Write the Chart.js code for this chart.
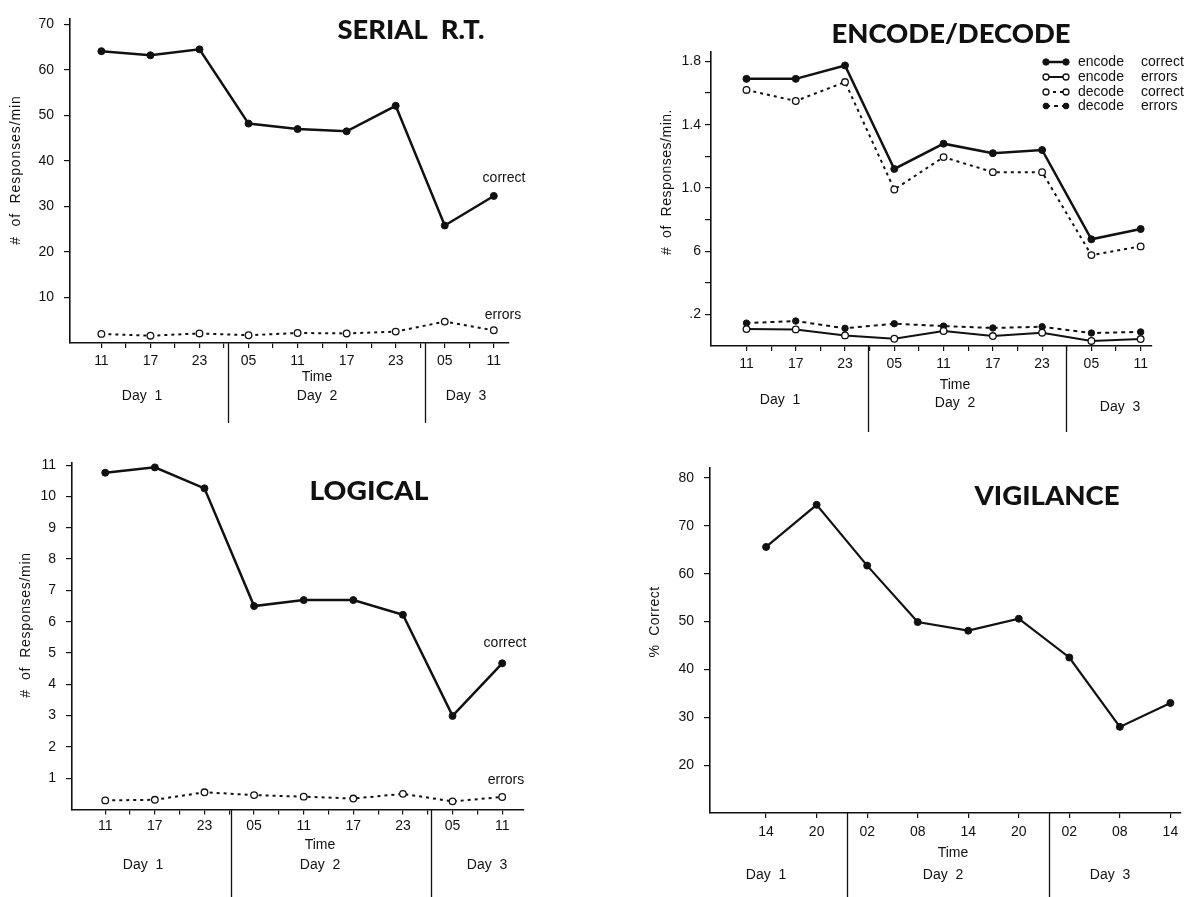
<!DOCTYPE html>
<html><head><meta charset="utf-8">
<script src="https://cdn.jsdelivr.net/npm/chart.js@4.4.1/dist/chart.umd.min.js"></script>
<style>
html,body{margin:0;padding:0;background:#fff;}
#wrap{position:relative;width:1195px;height:897px;overflow:hidden;background:#fff;}
.p{position:absolute;}
</style></head><body>
<div id="wrap">
<div class="p" style="left:0;top:0;width:600px;height:440px"><canvas id="c1"></canvas></div>
<div class="p" style="left:600px;top:0;width:595px;height:440px"><canvas id="c2"></canvas></div>
<div class="p" style="left:0;top:440px;width:600px;height:457px"><canvas id="c3"></canvas></div>
<div class="p" style="left:600px;top:440px;width:595px;height:457px"><canvas id="c4"></canvas></div>
</div>
<script>
// ---------- data ----------
const timeLabels = ['11','17','23','05','11','17','23','05','11'];
const vigTimeLabels = ['14','20','02','08','14','20','02','08','14'];
const dayLabels = ['Day  1','Day  2','Day  3'];
const xAxisTitle = 'Time';

const serialCorrect = [64.1, 63.2, 64.5, 48.2, 47.0, 46.5, 52.1, 25.8, 32.3];
const serialErrors  = [2.0, 1.6, 2.1, 1.7, 2.2, 2.1, 2.5, 4.7, 2.8];
const serialTicks = [10, 20, 30, 40, 50, 60, 70];
const serialTickLabels = ['10','20','30','40','50','60','70'];

const encodeCorrect = [1.69, 1.69, 1.775, 1.12, 1.28, 1.22, 1.24, 0.675, 0.74];
const encodeErrors  = [0.107, 0.105, 0.067, 0.046, 0.095, 0.063, 0.084, 0.032, 0.044];
const decodeCorrect = [1.62, 1.55, 1.67, 0.99, 1.195, 1.10, 1.10, 0.575, 0.63];
const decodeErrors  = [0.145, 0.158, 0.112, 0.141, 0.126, 0.114, 0.122, 0.082, 0.089];
const encodeTicks = [0.2, 0.4, 0.6, 0.8, 1.0, 1.2, 1.4, 1.6, 1.8];
const encodeTickLabels = ['.2', '', '6', '', '1.0', '', '1.4', '', '1.8'];

const logicalCorrect = [10.76, 10.93, 10.26, 6.50, 6.69, 6.69, 6.22, 2.99, 4.67];
const logicalErrors  = [0.29, 0.31, 0.55, 0.46, 0.41, 0.35, 0.50, 0.26, 0.40];
const logicalTicks = [1, 2, 3, 4, 5, 6, 7, 8, 9, 10, 11];
const logicalTickLabels = ['1','2','3','4','5','6','7','8','9','10','11'];

const vigilanceCorrect = [65.6, 74.4, 61.7, 49.9, 48.1, 50.6, 42.5, 28.0, 33.0];
const vigilanceTicks = [20, 30, 40, 50, 60, 70, 80];
const vigilanceTickLabels = ['20','30','40','50','60','70','80'];

// ---------- styles ----------
const INK = '#111';
const FONT_FAMILY = '"Liberation Sans", Arial, Helvetica, sans-serif';
const SMALL = '14px ' + FONT_FAMILY;
const TITLE_FONT = '900 26px Lato, "Liberation Sans", sans-serif';
Chart.defaults.font.family = FONT_FAMILY;
Chart.defaults.color = INK;

const toXY = arr => arr.map((v, i) => ({x: i, y: v}));

const solidFilled = (label, values) => ({
  label, data: toXY(values), borderColor: INK, borderWidth: 2.5, tension: 0,
  pointRadius: 3.5, pointBackgroundColor: INK, pointBorderColor: INK, pointBorderWidth: 1, fill: false
});
const dottedOpen = (label, values) => ({
  label, data: toXY(values), borderColor: INK, borderWidth: 2, borderDash: [3, 4], tension: 0,
  pointRadius: 3.3, pointBackgroundColor: '#fff', pointBorderColor: INK, pointBorderWidth: 1.3, fill: false
});
const solidOpen = (label, values) => ({
  label, data: toXY(values), borderColor: INK, borderWidth: 2, tension: 0,
  pointRadius: 3.3, pointBackgroundColor: '#fff', pointBorderColor: INK, pointBorderWidth: 1.3, fill: false
});
const dashedFilled = (label, values) => ({
  label, data: toXY(values), borderColor: INK, borderWidth: 2, borderDash: [4, 4], tension: 0,
  pointRadius: 3.2, pointBackgroundColor: INK, pointBorderColor: INK, pointBorderWidth: 1, fill: false
});

function fitText(ctx, text, cx, base, w, font) {
  ctx.save();
  ctx.font = font;
  const m = ctx.measureText(text).width;
  ctx.translate(cx, base);
  ctx.scale(w / m, 1);
  ctx.textAlign = 'center';
  ctx.textBaseline = 'alphabetic';
  ctx.fillText(text, 0, 0);
  ctx.restore();
}

const decorPlugin = {
  id: 'decor',
  afterDraw(chart, args, o) {
    const ctx = chart.ctx, xs = chart.scales.x, ca = chart.chartArea;
    ctx.save();
    ctx.fillStyle = INK; ctx.strokeStyle = INK;
    if (o.title) fitText(ctx, o.title.text, o.title.x, o.title.base, o.title.w, TITLE_FONT);
    // y title
    ctx.font = SMALL; ctx.textAlign = 'center'; ctx.textBaseline = 'middle';
    ctx.save();
    if ('letterSpacing' in ctx) ctx.letterSpacing = o.ytitle.spacing || '0px';
    ctx.translate(o.ytitle.x, o.ytitle.y);
    ctx.rotate(-Math.PI / 2);
    ctx.fillText(o.ytitle.text, 0, 0);
    ctx.restore();
    // day separators
    ctx.lineWidth = 1.3;
    o.seps.forEach(v => {
      const px = Math.round(xs.getPixelForValue(v)) + 0.5;
      ctx.beginPath(); ctx.moveTo(px, ca.bottom); ctx.lineTo(px, o.sepEnd); ctx.stroke();
    });
    ctx.fillText(xAxisTitle, o.time.x, o.time.y);
    o.days.forEach((d, i) => ctx.fillText(dayLabels[i], d.x, d.y));
    (o.notes || []).forEach(n => ctx.fillText(n.text, n.x, n.y));
    // legend
    if (o.legend) {
      const L = o.legend;
      chart.data.datasets.forEach((ds, i) => {
        const y = L.rows[i];
        ctx.save();
        ctx.setLineDash(ds.borderDash || []);
        ctx.lineWidth = ds.borderWidth;
        ctx.beginPath(); ctx.moveTo(L.x0, y); ctx.lineTo(L.x1, y); ctx.stroke();
        ctx.setLineDash([]);
        [L.x0, L.x1].forEach(px => {
          ctx.beginPath(); ctx.arc(px, y, ds.pointRadius - 0.3, 0, Math.PI * 2);
          ctx.fillStyle = ds.pointBackgroundColor; ctx.fill();
          ctx.lineWidth = ds.pointBorderWidth; ctx.strokeStyle = ds.pointBorderColor; ctx.stroke();
        });
        ctx.restore();
        const words = ds.label.split(' ');
        ctx.textAlign = 'left';
        ctx.fillText(words[0], L.t1, y);
        ctx.fillText(words[1], L.t2, y);
      });
    }
    ctx.restore();
  }
};

function makeChart(p) {
  const halfTicks = [];
  for (let v = 0; v <= 8; v += p.xStep) halfTicks.push(v);
  return new Chart(document.getElementById(p.id), {
    type: 'line',
    data: { datasets: p.datasets },
    plugins: [decorPlugin],
    options: {
      responsive: true, maintainAspectRatio: false, animation: false, devicePixelRatio: 1,
      layout: { padding: { left: 0, top: p.padTop, right: p.padRight, bottom: 0 } },
      plugins: { legend: { display: false }, tooltip: { enabled: false }, title: { display: false }, decor: p.decor },
      scales: {
        x: {
          type: 'linear', min: p.xMin, max: p.xMax,
          afterFit: s => { s.height = p.xHeight; },
          afterBuildTicks: s => { s.ticks = halfTicks.map(v => ({value: v})); },
          border: { display: true, color: INK, width: 1.6 },
          grid: { display: true, drawOnChartArea: false, drawTicks: true, tickLength: 5, color: INK, lineWidth: 1.2 },
          ticks: {
            autoSkip: false, maxRotation: 0, minRotation: 0, padding: p.xPad,
            font: { size: 14 }, color: INK,
            callback: v => Number.isInteger(v) ? p.xLabels[v] : ''
          }
        },
        y: {
          type: 'linear', min: p.yMin, max: p.yMax,
          afterFit: s => { s.width = p.yWidth; },
          afterBuildTicks: s => { s.ticks = p.yTicks.map(v => ({value: v})); },
          border: { display: true, color: INK, width: 1.6 },
          grid: { display: true, drawOnChartArea: false, drawTicks: true, tickLength: 6, color: INK, lineWidth: 1.2 },
          ticks: {
            autoSkip: false, padding: p.yPad, font: { size: 14 }, color: INK,
            callback: (v, i) => p.yTickLabels[p.yTicks.indexOf(v)] ?? ''
          }
        }
      }
    }
  });
}

makeChart({
  id: 'c1', xLabels: timeLabels, xStep: 0.5, xMin: -0.64, xMax: 8.31, xPad: 5,
  yMin: 0, yMax: 71.3, yTicks: serialTicks, yTickLabels: serialTickLabels,
  yWidth: 70, padTop: 7.7, padRight: 91, xHeight: 97, yPad: 10,
  datasets: [solidFilled('correct', serialCorrect), dottedOpen('errors', serialErrors)],
  decor: {
    title: { text: 'SERIAL  R.T.', x: 411, base: 39, w: 147 },
    ytitle: { text: '#  of  Responses/min', x: 16, y: 170, spacing: '0.9px' },
    time: { x: 317, y: 377 },
    days: [{x: 142, y: 396}, {x: 317, y: 396}, {x: 466, y: 396}],
    seps: [2.59, 6.59], sepEnd: 423,
    notes: [{text: 'correct', x: 504, y: 178}, {text: 'errors', x: 503, y: 315}]
  }
});

makeChart({
  id: 'c2', xLabels: timeLabels, xStep: 0.5, xMin: -0.72, xMax: 8.23, xPad: 5,
  yMin: 0, yMax: 1.86, yTicks: encodeTicks, yTickLabels: encodeTickLabels,
  yWidth: 111, padTop: 52, padRight: 43, xHeight: 94, yPad: 4,
  datasets: [
    solidFilled('encode correct', encodeCorrect),
    solidOpen('encode errors', encodeErrors),
    dottedOpen('decode correct', decodeCorrect),
    dashedFilled('decode errors', decodeErrors)
  ],
  decor: {
    title: { text: 'ENCODE/DECODE', x: 351, base: 43, w: 239 },
    ytitle: { text: '#  of  Responses/min.', x: 67, y: 182, spacing: '0.5px' },
    time: { x: 355, y: 385 },
    days: [{x: 180, y: 400}, {x: 355, y: 403}, {x: 520, y: 407}],
    seps: [2.46, 6.49], sepEnd: 432,
    legend: { rows: [62, 77, 92, 106], x0: 446, x1: 466, t1: 478, t2: 541 }
  }
});

makeChart({
  id: 'c3', xLabels: timeLabels, xStep: 0.5, xMin: -0.67, xMax: 8.44, xPad: 3,
  yMin: 0, yMax: 11.07, yTicks: logicalTicks, yTickLabels: logicalTickLabels,
  yWidth: 72, padTop: 23, padRight: 76, xHeight: 87.5, yPad: 10,
  datasets: [solidFilled('correct', logicalCorrect), dottedOpen('errors', logicalErrors)],
  decor: {
    title: { text: 'LOGICAL', x: 369, base: 60, w: 119 },
    ytitle: { text: '#  of  Responses/min', x: 26, y: 185, spacing: '0.7px' },
    time: { x: 320, y: 405 },
    days: [{x: 143, y: 425}, {x: 320, y: 425}, {x: 487, y: 425}],
    seps: [2.54, 6.57], sepEnd: 457,
    notes: [{text: 'correct', x: 505, y: 203}, {text: 'errors', x: 506, y: 340}]
  }
});

makeChart({
  id: 'c4', xLabels: vigTimeLabels, xStep: 1, xMin: -1.11, xMax: 8.21, xPad: 6,
  yMin: 10, yMax: 82.1, yTicks: vigilanceTicks, yTickLabels: vigilanceTickLabels,
  yWidth: 110, padTop: 28, padRight: 14, xHeight: 84, yPad: 10,
  datasets: [Object.assign(solidFilled('correct', vigilanceCorrect), {borderWidth: 2.2})],
  decor: {
    title: { text: 'VIGILANCE', x: 447, base: 65, w: 145 },
    ytitle: { text: '%  Correct', x: 55, y: 182, spacing: '0.5px' },
    time: { x: 353, y: 413 },
    days: [{x: 166, y: 435}, {x: 343, y: 435}, {x: 510, y: 435}],
    seps: [1.61, 5.59], sepEnd: 457
  }
});
</script>
</body></html>
